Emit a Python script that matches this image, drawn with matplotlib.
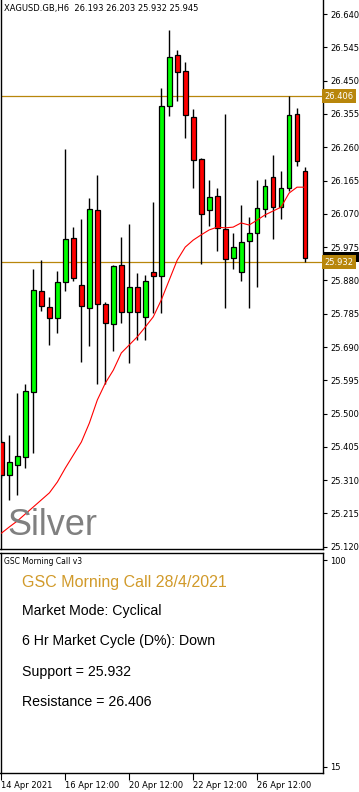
import matplotlib
matplotlib.use("Agg")
import matplotlib.pyplot as plt
import matplotlib.transforms as mtransforms
from matplotlib.patches import Rectangle
import numpy as np

# XAGUSD H6 candles
opens = [25.420, 25.325, 25.353, 25.375, 25.561, 25.849, 25.803, 25.772, 25.876, 26.000,
         25.866, 25.800, 26.080, 25.812, 25.755, 25.923, 25.789, 25.860, 25.775, 25.903,
         25.892, 26.377, 26.522, 26.477, 26.347, 26.226, 26.080, 26.120, 26.026, 25.943,
         25.903, 25.992, 26.014, 26.083, 26.174, 26.089, 26.143, 26.354, 26.193]
highs = [25.425, 25.439, 25.558, 25.584, 25.913, 25.938, 25.832, 25.907, 26.255, 26.032,
         26.055, 26.115, 26.181, 25.818, 25.924, 26.004, 26.041, 25.900, 25.895, 26.103,
         26.428, 26.594, 26.537, 26.503, 26.368, 26.228, 26.166, 26.143, 26.354, 26.014,
         26.094, 26.060, 26.166, 26.168, 26.237, 26.191, 26.405, 26.371, 26.203]
lows = [25.315, 25.254, 25.268, 25.344, 25.388, 25.794, 25.696, 25.731, 25.850, 25.878,
        25.648, 25.694, 25.584, 25.584, 25.679, 25.759, 25.644, 25.709, 25.711, 25.786,
        25.786, 26.350, 26.393, 26.287, 26.145, 25.928, 26.034, 25.963, 25.800, 25.912,
        25.877, 25.800, 25.860, 26.060, 25.997, 26.054, 26.134, 26.206, 25.932]
closes = [25.325, 25.363, 25.378, 25.564, 25.852, 25.808, 25.772, 25.875, 25.997, 25.888,
          25.806, 26.083, 25.812, 25.758, 25.920, 25.789, 25.860, 25.789, 25.877, 25.892,
          26.377, 26.517, 26.474, 26.351, 26.223, 26.069, 26.117, 26.029, 25.940, 25.974,
          25.989, 26.014, 26.086, 26.148, 26.089, 26.143, 26.351, 26.220, 25.945]
ma = [25.159, 25.177, 25.194, 25.214, 25.234, 25.254, 25.274, 25.305, 25.345, 25.382,
      25.419, 25.473, 25.539, 25.587, 25.624, 25.673, 25.696, 25.719, 25.747, 25.776,
      25.824, 25.881, 25.938, 25.975, 25.995, 26.010, 26.024, 26.032, 26.030, 26.032,
      26.044, 26.038, 26.052, 26.067, 26.078, 26.089, 26.129, 26.146, 26.146]

price_ticks = [26.640, 26.545, 26.450, 26.355, 26.260, 26.165, 26.070, 25.975,
               25.880, 25.785, 25.690, 25.595, 25.500, 25.405, 25.310, 25.215, 25.120]
resistance = 26.406
support = 25.932
last_close = 25.945

date_pos = [0, 8, 16, 24, 32]
date_labels = ["14 Apr 2021", "16 Apr 12:00", "20 Apr 12:00", "22 Apr 12:00", "26 Apr 12:00"]

info_lines = ["Market Mode: Cyclical", "6 Hr Market Cycle (D%): Down",
              "Support = 25.932", "Resistance = 26.406"]

W, H = 359, 792
fig = plt.figure(figsize=(W / 100, H / 100), dpi=100)
fig.patch.set_facecolor("white")

ax = fig.add_axes([0.5 / W, 1 - 549 / H, 322.5 / W, 549 / H])
ax2 = fig.add_axes([0.5 / W, 1 - 773 / H, 322.5 / W, 220 / H])

x = np.arange(len(opens))
o = np.array(opens)
c = np.array(closes)
up = c >= o
cols = np.where(up, "#00ff00", "#ff0000")

ax.vlines(x, lows, highs, color="black", lw=1.0, zorder=2)
ax.bar(x, c - o, bottom=o, width=0.6, color=cols, edgecolor="black", linewidth=0.9, zorder=3)
ax.plot(x, ma, color="red", lw=0.8, zorder=4)

gold = "#b8860b"
ax.axhline(resistance, color=gold, lw=0.9, zorder=1)
ax.axhline(support, color=gold, lw=0.9, zorder=1)

ax.set_xlim(-0.125, 40.25)
ax.set_ylim(25.1137, 26.680)
ax.yaxis.tick_right()
ax.set_yticks(price_ticks)
ax.set_yticklabels(["%.3f" % t for t in price_ticks])
ax.tick_params(axis="y", direction="out", length=3, width=0.8, pad=2, labelsize=6, colors="black")
ax.set_xticks([])
ax.spines["top"].set_visible(False)
for s in ["left", "right", "bottom"]:
    ax.spines[s].set_linewidth(1.0)

# price labels on the right axis (bid box mostly hidden behind the support box)
tr = mtransforms.blended_transform_factory(ax.transAxes, ax.transData)
ax.add_patch(Rectangle((1.003, last_close - 0.013), 0.12, 0.029, transform=tr,
                       fc="black", ec="none", clip_on=False, zorder=5))
for v in [resistance, support]:
    ax.text(1.005, v, "%.3f" % v, transform=tr, fontsize=6, color="white",
            va="center", ha="left", clip_on=False, zorder=6,
            bbox=dict(boxstyle="square,pad=0.3", fc=gold, ec="none"))

ax.text(4 / 322.5, 1 - 9 / 549, "XAGUSD.GB,H6  %.3f %.3f %.3f %.3f" % (opens[-1], highs[-1], lows[-1], closes[-1]),
        transform=ax.transAxes, fontsize=6, va="center", ha="left")
fig.text(7 / W, 1 - 535 / H, "Silver", fontsize=26, color="#808080",
         family="Liberation Sans", va="baseline", ha="left")

# lower indicator panel
ax2.set_xlim(-0.125, 40.25)
ax2.set_ylim(12.5, 102.9)
ax2.yaxis.tick_right()
ax2.set_yticks([100, 15])
ax2.set_yticklabels(["100", "15"])
ax2.tick_params(axis="y", direction="out", length=3, width=0.8, pad=2, labelsize=6)
ax2.set_xticks(date_pos)
ax2.set_xticklabels(date_labels, ha="left")
ax2.tick_params(axis="x", direction="out", length=5, width=0.8, pad=1, labelsize=6)
for s in ax2.spines.values():
    s.set_linewidth(1.0)

ax2.text(4 / 322.5, 1 - 9 / 220, "GSC Morning Call v3", transform=ax2.transAxes,
         fontsize=5.5, va="center", ha="left")
fig.text(22 / W, 1 - 582 / H, "GSC Morning Call 28/4/2021", fontsize=11.5, color="#d19a2a",
         family="Liberation Sans", va="center", ha="left")
for i, line in enumerate(info_lines):
    ypx = [611, 641, 672, 702][i]
    fig.text(22 / W, 1 - ypx / H, line, fontsize=10.2, color="black",
             family="Liberation Sans", va="center", ha="left")

fig.savefig("out.png", dpi=100)
